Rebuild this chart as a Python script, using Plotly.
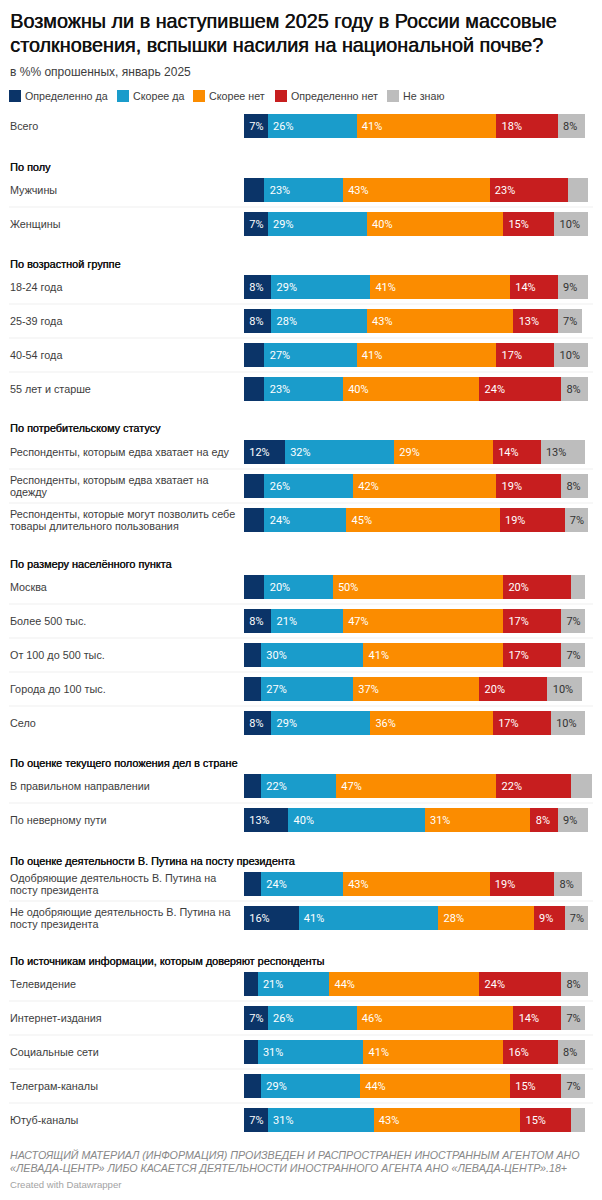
import plotly.graph_objects as go

W = 602
H = 1200

series_names = ["Определенно да", "Скорее да", "Скорее нет", "Определенно нет", "Не знаю"]
colors = ["#0b3468", "#1a9ccb", "#fb8c00", "#c71e1f", "#bdbdbd"]
text_colors = ["#ffffff", "#ffffff", "#ffffff", "#ffffff", "#333333"]

group_names = [
    "",
    "По полу",
    "По возрастной группе",
    "По потребительскому статусу",
    "По размеру населённого пункта",
    "По оценке текущего положения дел в стране",
    "По оценке деятельности В. Путина на посту президента",
    "По источникам информации, которым доверяют респонденты",
]
group_sizes = [1, 2, 4, 3, 5, 2, 2, 5]

rows = [
    "Всего",
    "Мужчины", "Женщины",
    "18-24 года", "25-39 года", "40-54 года", "55 лет и старше",
    "Респонденты, которым едва хватает на еду",
    "Респонденты, которым едва хватает на<br>одежду",
    "Респонденты, которые могут позволить себе<br>товары длительного пользования",
    "Москва", "Более 500 тыс.", "От 100 до 500 тыс.", "Города до 100 тыс.", "Село",
    "В правильном направлении", "По неверному пути",
    "Одобряющие деятельность В. Путина на<br>посту президента",
    "Не одобряющие деятельность В. Путина на<br>посту президента",
    "Телевидение", "Интернет-издания", "Социальные сети", "Телеграм-каналы", "Ютуб-каналы",
]
definitely_yes = [7, 6, 7, 8, 8, 6, 6, 12, 6, 6, 6, 8, 5, 5, 8, 5, 13, 5, 16, 4, 7, 4, 5, 7]
rather_yes = [26, 23, 29, 29, 28, 27, 23, 32, 26, 24, 20, 21, 30, 27, 29, 22, 40, 24, 41, 21, 26, 31, 29, 31]
rather_no = [41, 43, 40, 41, 43, 41, 40, 29, 42, 45, 50, 47, 41, 37, 36, 47, 31, 43, 28, 44, 46, 41, 44, 43]
definitely_no = [18, 23, 15, 14, 13, 17, 24, 14, 19, 19, 20, 17, 17, 20, 17, 22, 8, 19, 9, 24, 14, 16, 15, 15]
dont_know = [8, 6, 10, 9, 7, 10, 8, 13, 8, 7, 4, 7, 7, 10, 10, 6, 9, 8, 7, 8, 7, 8, 7, 4]
series_values = [definitely_yes, rather_yes, rather_no, definitely_no, dont_know]

title = "Возможны ли в наступившем 2025 году в России массовые<br>столкновения, вспышки насилия на национальной почве?"
subtitle = "в %% опрошенных, январь 2025"
footnote = ("НАСТОЯЩИЙ МАТЕРИАЛ (ИНФОРМАЦИЯ) ПРОИЗВЕДЕН И РАСПРОСТРАНЕН ИНОСТРАННЫМ АГЕНТОМ АНО<br>"
            "«ЛЕВАДА-ЦЕНТР» ЛИБО КАСАЕТСЯ ДЕЯТЕЛЬНОСТИ ИНОСТРАННОГО АГЕНТА АНО «ЛЕВАДА-ЦЕНТР».18+")
credit = "Created with Datawrapper"

# layout, in page pixels
FONT = "Liberation Sans"
BAR_FONT = "Roboto"
LEFT = 9
RIGHT = 593
BAR_LEFT = 244
PX_PER_PCT = 3.41
ROW_H = 34
BAR_H = 24
first_row_center = [126, 190, 287, 452, 587, 786, 884, 984]
legend_x = [9, 117, 193, 275, 387]


def px(x):
    return x / W


def py(y):
    return 1 - y / H


fig = go.Figure()
annotations = []
shapes = []


def note(text, x, y, size, color="#3d3d3d", style="normal", gap=12.6, shadow="none"):
    # each line is its own annotation so the line gap can be tighter than plotly's
    lines = text.split("<br>")
    y0 = y - gap * (len(lines) - 1) / 2
    for k, line in enumerate(lines):
        annotations.append(dict(
            text=line, xref="paper", yref="paper", x=px(x), y=py(y0 + k * gap),
            xanchor="left", yanchor="middle", align="left", showarrow=False,
            borderpad=0,
            font=dict(family=FONT, size=size, color=color, style=style, shadow=shadow),
        ))


layout_axes = {}
start = 0
for g, n in enumerate(group_sizes):
    cats = rows[start:start + n]
    axis = "y" if g == 0 else f"y{g + 1}"
    top = first_row_center[g] - ROW_H / 2
    layout_axes["yaxis" if g == 0 else f"yaxis{g + 1}"] = dict(
        domain=[py(top + n * ROW_H), py(top)],
        type="category", categoryorder="array", categoryarray=cats,
        range=[n - 0.5, -0.5], visible=False, fixedrange=True,
    )
    for s, name in enumerate(series_names):
        vals = series_values[s][start:start + n]
        fig.add_trace(go.Bar(
            x=vals, y=cats, xaxis="x", yaxis=axis, orientation="h", name=name,
            marker=dict(color=colors[s], line_width=0),
            text=[f"\u2009{v}%" if v >= 7 else "" for v in vals],
            textposition="inside", insidetextanchor="start", constraintext="none",
            textangle=0,
            insidetextfont=dict(family=BAR_FONT, size=11, color=text_colors[s]),
            showlegend=False, hoverinfo="skip",
        ))
    if group_names[g]:
        note(group_names[g], LEFT, first_row_center[g] - 23.5, 10.9, "#111111",
             shadow="0.3px 0 0 #111111")
    for i, row in enumerate(cats):
        note(row, LEFT, first_row_center[g] + i * ROW_H, 10.8)
        if i < n - 1:
            shapes.append(dict(
                type="line", xref="paper", yref=axis, x0=px(LEFT), x1=px(RIGHT),
                y0=i + 0.5, y1=i + 0.5, line=dict(color="#efefef", width=1),
            ))
    start += n

note(title, LEFT, 33, 19.8, "#111111", gap=23.7, shadow="0.5px 0 0 #111111")
note(subtitle, LEFT, 72, 12)
for s, name in enumerate(series_names):
    shapes.append(dict(
        type="rect", xref="paper", yref="paper", line_width=0, fillcolor=colors[s],
        x0=px(legend_x[s]), x1=px(legend_x[s] + 12), y0=py(102), y1=py(90),
    ))
    note(name, legend_x[s] + 15, 96, 10.7)
note(footnote, LEFT, 1161.5, 10.7, "#888888", "italic", gap=12.7)
note(credit, LEFT, 1184, 9.6, "#a3a3a3")

fig.update_layout(
    width=W, height=H, margin=dict(l=0, r=0, t=0, b=0),
    paper_bgcolor="#ffffff", plot_bgcolor="#ffffff",
    barmode="stack", bargap=(ROW_H - BAR_H) / ROW_H,
    xaxis=dict(domain=[px(BAR_LEFT), px(RIGHT)], range=[0, (RIGHT - BAR_LEFT) / PX_PER_PCT],
               visible=False, fixedrange=True),
    annotations=annotations, shapes=shapes,
    **layout_axes,
)

fig.write_html("out.html", config={"displayModeBar": False},
               post_script="document.body.style.margin='0';")
